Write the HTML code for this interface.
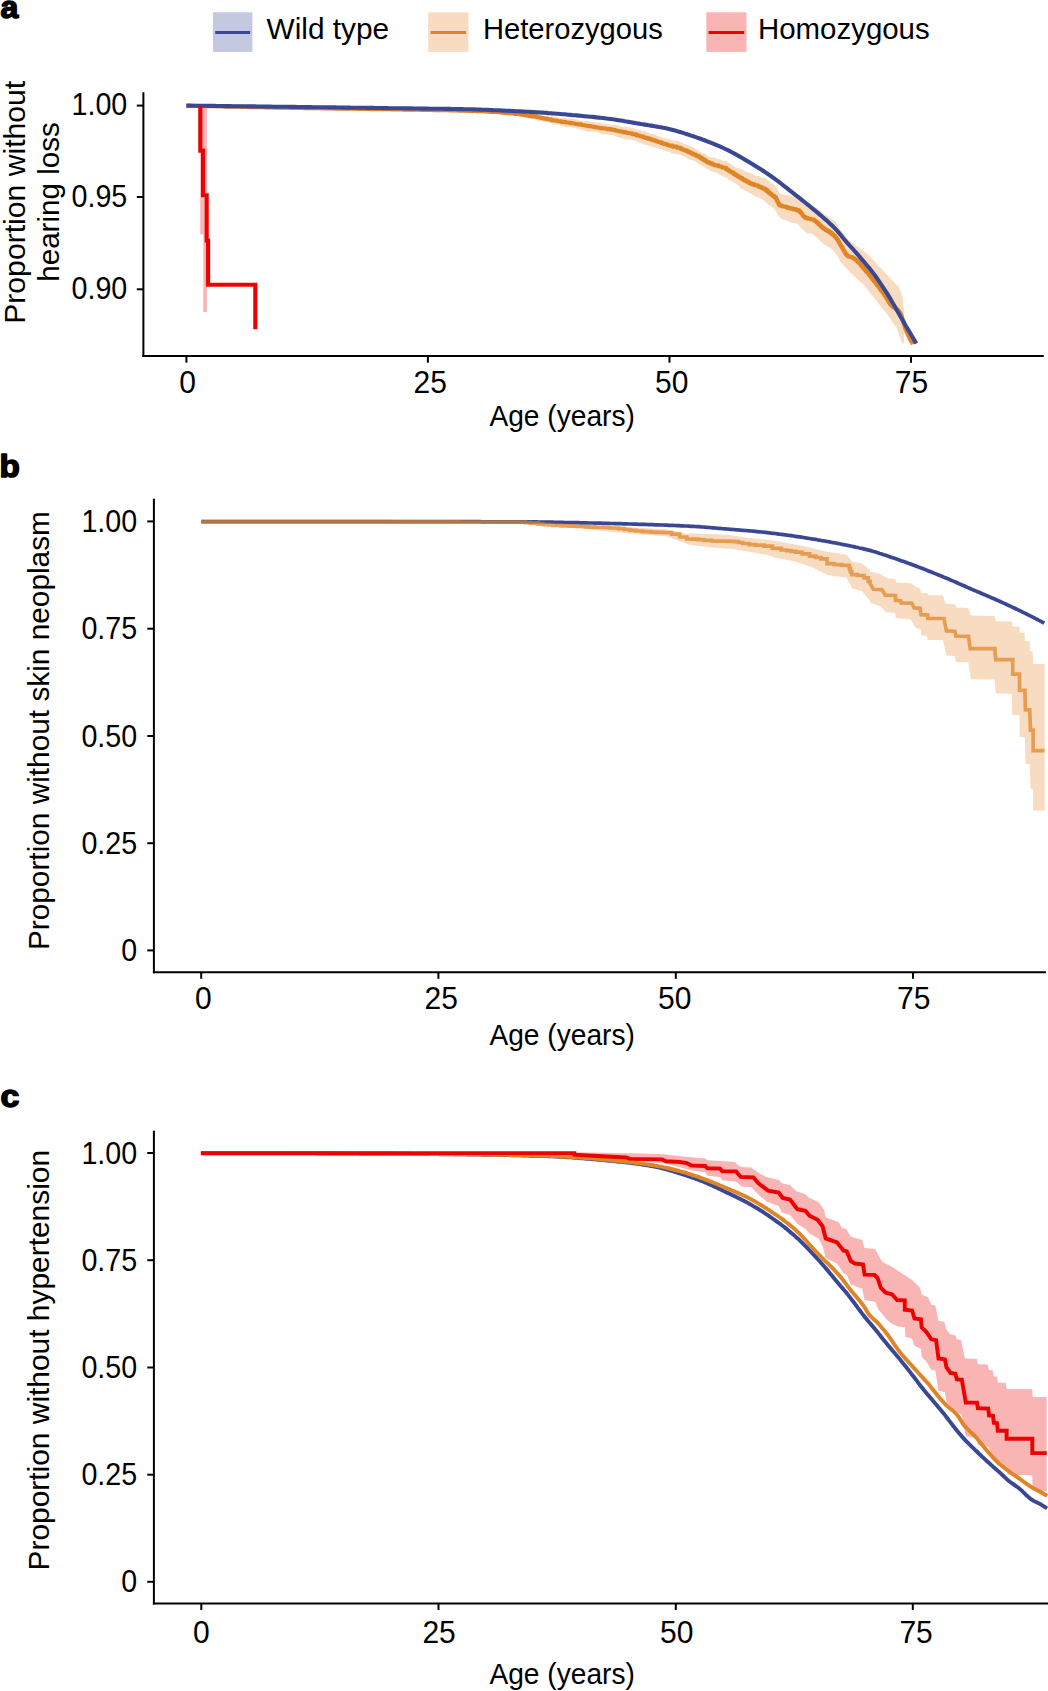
<!DOCTYPE html>
<html lang="en"><head><meta charset="utf-8"><title>Figure</title>
<style>html,body{margin:0;padding:0;background:#fff}svg{display:block}text{font-family:"Liberation Sans", sans-serif;fill:#000}</style></head><body>
<svg width="1048" height="1691" viewBox="0 0 1048 1691">
<rect width="1048" height="1691" fill="#fff"/>
<rect x="212.9" y="12.3" width="39.5" height="39.6" fill="#c4c8e0"/>
<line x1="215.2" y1="32.5" x2="250.1" y2="32.5" stroke="#3a4893" stroke-width="3.20"/>
<text x="266.5" y="39.4" font-size="28.8" text-anchor="start" textLength="122.6" lengthAdjust="spacingAndGlyphs" >Wild type</text>
<rect x="428.2" y="12.3" width="40.2" height="39.6" fill="#f8dcc2"/>
<line x1="430.5" y1="32.5" x2="466.1" y2="32.5" stroke="#e08526" stroke-width="3.20"/>
<text x="483.0" y="39.4" font-size="28.8" text-anchor="start" textLength="179.7" lengthAdjust="spacingAndGlyphs" >Heterozygous</text>
<rect x="706.3" y="12.3" width="40.2" height="39.6" fill="#f9b4b4"/>
<line x1="708.6" y1="32.5" x2="744.2" y2="32.5" stroke="#ee0000" stroke-width="3.20"/>
<text x="758.0" y="39.4" font-size="28.8" text-anchor="start" textLength="171.7" lengthAdjust="spacingAndGlyphs" >Homozygous</text>
<text x="0.6" y="17.6" font-size="31.3" text-anchor="start" textLength="17.8" lengthAdjust="spacingAndGlyphs" font-weight="bold" stroke="#000" stroke-width="1.5" stroke-linejoin="round">a</text>
<text x="-0.4" y="476.6" font-size="31.3" text-anchor="start" textLength="20.3" lengthAdjust="spacingAndGlyphs" font-weight="bold" stroke="#000" stroke-width="1.5" stroke-linejoin="round">b</text>
<text x="0.5" y="1107.4" font-size="31.3" text-anchor="start" textLength="18.8" lengthAdjust="spacingAndGlyphs" font-weight="bold" stroke="#000" stroke-width="1.5" stroke-linejoin="round">c</text>
<line x1="143.4" y1="92.3" x2="143.4" y2="357.1" stroke="#000" stroke-width="2.00"/>
<line x1="142.4" y1="356.1" x2="1043.7" y2="356.1" stroke="#000" stroke-width="2.00"/>
<line x1="136.8" y1="105.6" x2="143.4" y2="105.6" stroke="#000" stroke-width="2.00"/>
<text x="127.3" y="115.4" font-size="30.8" text-anchor="end" textLength="55.8" lengthAdjust="spacingAndGlyphs" >1.00</text>
<line x1="136.8" y1="197.0" x2="143.4" y2="197.0" stroke="#000" stroke-width="2.00"/>
<text x="127.3" y="206.8" font-size="30.8" text-anchor="end" textLength="55.8" lengthAdjust="spacingAndGlyphs" >0.95</text>
<line x1="136.8" y1="289.3" x2="143.4" y2="289.3" stroke="#000" stroke-width="2.00"/>
<text x="127.3" y="299.1" font-size="30.8" text-anchor="end" textLength="55.8" lengthAdjust="spacingAndGlyphs" >0.90</text>
<line x1="186.4" y1="356.1" x2="186.4" y2="362.7" stroke="#000" stroke-width="2.00"/>
<text x="187.5" y="392.7" font-size="30.8" text-anchor="middle" textLength="16.7" lengthAdjust="spacingAndGlyphs" >0</text>
<line x1="427.9" y1="356.1" x2="427.9" y2="362.7" stroke="#000" stroke-width="2.00"/>
<text x="430.3" y="392.7" font-size="30.8" text-anchor="middle" textLength="33.4" lengthAdjust="spacingAndGlyphs" >25</text>
<line x1="669.5" y1="356.1" x2="669.5" y2="362.7" stroke="#000" stroke-width="2.00"/>
<text x="671.7" y="392.7" font-size="30.8" text-anchor="middle" textLength="33.4" lengthAdjust="spacingAndGlyphs" >50</text>
<line x1="911.0" y1="356.1" x2="911.0" y2="362.7" stroke="#000" stroke-width="2.00"/>
<text x="911.4" y="392.7" font-size="30.8" text-anchor="middle" textLength="33.4" lengthAdjust="spacingAndGlyphs" >75</text>
<text x="562.2" y="425.5" font-size="29.6" text-anchor="middle" textLength="145.5" lengthAdjust="spacingAndGlyphs" >Age (years)</text>
<text x="25.5" y="202.3" font-size="29.6" text-anchor="middle" textLength="243.0" lengthAdjust="spacingAndGlyphs" transform="rotate(-90 25.5 202.3)" >Proportion without</text>
<text x="58.8" y="202.0" font-size="29.6" text-anchor="middle" textLength="159.5" lengthAdjust="spacingAndGlyphs" transform="rotate(-90 58.8 202.0)" >hearing loss</text>
<polygon fill="#f9b4b4" points="200.3,105.7 206.9,105.7 206.9,312.0 203.3,312.0 203.3,234.3 200.3,234.3"/>
<polygon fill="#f8dcc2" points="480.0,110.8 483.0,110.6 486.0,110.0 489.0,111.2 492.0,111.3 495.0,111.0 498.0,111.2 501.0,111.5 504.0,110.8 507.0,111.9 510.0,111.4 513.0,111.4 516.0,111.9 519.0,112.8 522.0,112.4 525.0,113.4 528.0,114.0 531.0,113.7 534.0,113.9 537.0,114.5 540.0,115.2 543.0,115.8 546.0,116.0 549.0,116.5 552.0,116.2 555.0,116.7 558.0,117.3 561.0,118.3 564.0,118.0 567.0,118.7 570.0,118.3 573.0,118.7 576.0,119.3 579.0,120.2 582.0,120.7 585.0,121.1 588.0,121.0 591.0,121.7 594.0,122.0 597.0,122.5 600.0,122.4 603.0,123.8 606.0,123.2 609.0,124.7 612.0,125.1 615.0,124.3 618.0,125.4 621.0,126.4 624.0,127.2 627.0,127.0 630.0,127.4 633.0,128.0 636.0,129.7 639.0,129.4 642.0,130.7 645.0,131.0 648.0,132.4 651.0,134.0 654.0,133.8 657.0,135.8 660.0,136.4 663.0,137.9 666.0,138.6 669.0,138.8 672.0,140.6 675.0,140.8 678.0,141.1 681.0,142.0 684.0,143.8 687.0,145.0 690.0,146.1 693.0,147.3 696.0,149.0 699.0,150.6 702.0,153.0 705.0,153.5 708.0,156.0 711.0,157.4 714.0,157.3 717.0,159.2 720.0,159.6 723.0,160.8 726.0,161.1 729.0,162.7 732.0,164.4 735.0,166.9 738.0,168.0 741.0,169.2 744.0,170.8 747.0,172.0 750.0,173.0 753.0,174.1 756.0,175.9 759.0,175.9 762.0,177.8 765.0,178.1 768.0,180.3 771.0,182.9 774.0,184.4 777.0,188.3 780.0,193.7 783.0,194.6 786.0,195.0 789.0,195.3 792.0,196.3 795.0,196.9 798.0,197.3 801.0,199.8 804.0,202.3 807.0,204.8 810.0,205.0 813.0,206.1 816.0,207.6 819.0,209.9 822.0,212.1 825.0,215.3 828.0,216.0 831.0,218.3 834.0,220.5 837.0,223.6 840.0,229.3 849.5,240.7 868.6,255.0 887.7,275.5 899.2,287.4 903.0,299.3 903.9,309.9 903.9,343.5 902.0,343.4 897.3,329.2 887.7,315.1 873.4,296.9 863.9,284.7 849.5,271.9 840.0,260.9 837.0,255.2 834.0,251.4 831.0,248.6 828.0,246.4 825.0,244.7 822.0,243.1 819.0,239.4 816.0,237.0 813.0,234.3 810.0,233.3 807.0,233.3 804.0,230.7 801.0,227.9 798.0,224.2 795.0,223.3 792.0,222.7 789.0,221.9 786.0,220.0 783.0,219.8 780.0,218.1 777.0,213.0 774.0,208.4 771.0,206.3 768.0,204.5 765.0,201.4 762.0,199.0 759.0,197.7 756.0,196.7 753.0,195.1 750.0,192.9 747.0,191.5 744.0,190.1 741.0,188.5 738.0,185.4 735.0,183.3 732.0,181.4 729.0,179.9 726.0,177.6 723.0,176.6 720.0,174.6 717.0,173.3 714.0,171.7 711.0,171.3 708.0,169.3 705.0,167.7 702.0,166.1 699.0,164.2 696.0,161.8 693.0,160.4 690.0,159.8 687.0,158.3 684.0,156.5 681.0,155.2 678.0,154.4 675.0,154.0 672.0,153.5 669.0,151.7 666.0,151.6 663.0,149.6 660.0,149.3 657.0,148.1 654.0,147.5 651.0,146.3 648.0,145.5 645.0,144.8 642.0,143.5 639.0,142.4 636.0,141.1 633.0,140.2 630.0,139.6 627.0,139.8 624.0,138.8 621.0,138.0 618.0,137.4 615.0,136.0 612.0,134.8 609.0,135.0 606.0,134.3 603.0,134.3 600.0,133.6 597.0,132.1 594.0,131.5 591.0,132.1 588.0,131.4 585.0,131.0 582.0,129.7 579.0,129.0 576.0,128.2 573.0,127.7 570.0,127.0 567.0,127.4 564.0,126.5 561.0,125.7 558.0,124.6 555.0,125.1 552.0,123.5 549.0,122.4 546.0,122.1 543.0,121.4 540.0,120.9 537.0,120.0 534.0,119.3 531.0,119.1 528.0,118.6 525.0,117.6 522.0,116.6 519.0,116.0 516.0,115.3 513.0,115.2 510.0,114.4 507.0,114.2 504.0,113.8 501.0,113.9 498.0,114.3 495.0,113.9 492.0,112.7 489.0,112.8 486.0,113.1 483.0,111.9 480.0,111.6"/>
<polyline fill="none" stroke="#e08526" stroke-width="4.1" stroke-linejoin="round" points="186.4,105.7 189.2,105.8 191.6,105.8 195.2,105.9 197.4,106.0 200.7,106.0 203.6,106.1 205.8,106.1 209.1,106.2 211.2,106.3 214.2,106.3 216.4,106.4 218.6,106.4 221.7,106.5 225.8,106.6 228.1,106.6 230.6,106.7 234.2,106.7 238.6,106.8 242.0,106.9 245.0,107.0 249.5,107.1 251.6,107.1 255.7,107.2 258.4,107.2 260.8,107.3 263.1,107.3 265.9,107.4 269.9,107.5 272.4,107.5 275.8,107.6 279.4,107.6 282.3,107.7 285.7,107.7 287.9,107.8 290.0,107.8 292.5,107.9 296.2,107.9 299.3,108.0 302.1,108.0 305.5,108.1 308.7,108.1 311.4,108.2 315.4,108.3 319.2,108.3 321.8,108.3 325.2,108.4 328.5,108.4 332.7,108.5 336.5,108.6 339.3,108.6 343.7,108.7 346.0,108.7 349.0,108.7 352.9,108.8 355.3,108.8 358.5,108.9 360.6,108.9 364.3,108.9 368.2,109.0 371.7,109.1 375.8,109.1 378.6,109.2 382.4,109.2 385.9,109.3 389.3,109.3 392.4,109.4 396.5,109.4 400.9,109.5 404.1,109.6 407.7,109.6 409.9,109.7 413.7,109.7 417.3,109.8 421.8,109.9 425.8,109.9 428.5,110.0 431.5,110.0 435.2,110.1 437.2,110.1 440.4,110.2 442.8,110.2 445.1,110.3 447.2,110.3 451.1,110.4 453.5,110.5 456.1,110.5 459.1,110.6 463.2,110.7 465.4,110.8 468.6,110.9 471.9,110.9 471.9,111.0 476.2,111.0 476.2,111.1 480.2,111.1 480.2,111.3 484.4,111.3 484.4,111.5 487.1,111.5 487.1,111.7 490.1,111.7 490.1,111.9 493.0,111.9 493.0,112.0 497.2,112.0 497.2,112.3 501.6,112.3 501.6,112.7 504.0,112.7 504.0,112.9 506.4,112.9 506.4,113.1 509.0,113.1 509.0,113.3 511.6,113.3 511.6,113.5 514.8,113.5 514.8,113.9 518.3,113.9 518.3,114.3 520.9,114.3 520.9,114.7 522.9,114.7 522.9,115.0 526.0,115.0 526.0,115.4 528.9,115.4 528.9,115.9 532.3,115.9 532.3,116.4 536.7,116.4 536.7,117.3 540.4,117.3 540.4,118.0 543.7,118.0 543.7,118.6 547.3,118.6 547.3,119.3 550.9,119.3 550.9,120.1 553.1,120.1 553.1,120.5 557.3,120.5 557.3,121.2 561.3,121.2 561.3,121.9 565.5,121.9 565.5,122.5 569.5,122.5 569.5,123.1 572.4,123.1 572.4,123.5 575.4,123.5 575.4,124.0 577.7,124.0 577.7,124.4 581.3,124.4 581.3,125.0 583.4,125.0 583.4,125.3 585.6,125.3 585.6,125.7 588.1,125.7 588.1,126.1 590.5,126.1 590.5,126.5 593.4,126.5 593.4,127.0 595.5,127.0 595.5,127.4 597.5,127.4 597.5,127.7 599.9,127.7 599.9,128.1 602.2,128.1 602.2,128.4 605.1,128.4 605.1,128.8 607.1,128.8 607.1,129.1 611.3,129.1 611.3,129.8 614.8,129.8 614.8,130.5 617.2,130.5 617.2,131.0 619.8,131.0 619.8,131.5 622.7,131.5 622.7,132.1 625.6,132.1 625.6,132.8 627.9,132.8 627.9,133.3 632.1,133.3 632.1,134.3 636.5,134.3 636.5,135.5 639.7,135.5 639.7,136.3 642.9,136.3 642.9,137.2 645.1,137.2 645.1,137.9 647.4,137.9 647.4,138.6 650.2,138.6 650.2,139.5 652.9,139.5 652.9,140.4 655.6,140.4 655.6,141.3 657.7,141.3 657.7,142.0 661.2,142.0 661.2,143.2 663.6,143.2 663.6,144.0 666.9,144.0 666.9,145.0 669.0,145.0 669.0,145.6 672.3,145.6 672.3,146.6 676.8,146.6 676.8,147.8 680.9,147.8 680.9,149.2 683.7,149.2 683.7,150.2 686.6,150.2 686.6,151.4 689.0,151.4 689.0,152.5 691.6,152.5 691.6,153.7 693.7,153.7 693.7,154.7 696.3,154.7 696.3,156.0 699.3,156.0 699.3,157.6 701.7,157.6 701.7,159.0 703.9,159.0 703.9,160.4 706.0,160.4 706.0,161.6 707.4,161.6 707.4,162.4 709.5,162.4 709.5,163.4 712.2,163.4 712.2,164.5 714.8,164.5 714.8,165.4 718.6,165.4 718.6,166.5 722.1,166.5 722.1,167.7 726.2,167.7 726.2,169.5 728.2,169.5 728.2,170.6 729.8,170.6 729.8,171.6 731.3,171.6 731.3,172.5 733.6,172.5 733.6,174.0 735.3,174.0 735.3,175.2 737.5,175.2 737.5,176.5 739.7,176.5 739.7,177.8 742.1,177.8 742.1,179.2 744.0,179.2 744.0,180.4 746.4,180.4 746.4,181.7 749.0,181.7 749.0,183.1 751.2,183.1 751.2,184.1 754.2,184.1 754.2,185.3 758.0,185.3 758.0,186.6 760.5,186.6 760.5,187.6 762.8,187.6 762.8,188.6 765.2,188.6 765.2,189.9 767.0,189.9 767.0,191.4 768.6,191.4 768.6,192.9 770.2,192.9 770.2,194.1 771.8,194.1 771.8,195.3 772.9,195.3 772.9,196.1 774.6,196.1 774.6,197.4 776.1,197.4 776.1,199.1 776.8,199.1 776.8,200.5 777.4,200.5 777.4,201.8 778.0,201.8 778.0,203.1 778.7,203.1 778.7,204.4 779.7,204.4 779.7,205.5 782.0,205.5 782.0,206.5 786.3,206.5 786.3,207.6 789.2,207.6 789.2,208.4 792.4,208.4 792.4,209.1 795.8,209.1 795.8,210.1 798.9,210.1 798.9,211.4 800.4,211.4 800.4,212.7 801.4,212.7 801.4,213.8 802.3,213.8 802.3,215.0 802.9,215.0 802.9,215.8 803.7,215.8 803.7,216.7 805.2,216.7 805.2,217.9 807.5,217.9 807.5,218.8 810.8,218.8 810.8,219.5 814.1,219.5 814.1,220.7 815.5,220.7 815.5,221.6 816.6,221.6 816.6,222.6 818.1,222.6 818.1,224.0 819.3,224.0 819.3,225.2 820.9,225.2 820.9,226.7 822.4,226.7 822.4,227.9 824.0,227.9 824.0,229.1 825.7,229.1 825.7,230.2 827.5,230.2 827.5,231.3 829.6,231.3 829.6,232.7 831.8,232.7 831.8,234.2 833.3,234.2 833.3,235.5 834.9,235.5 834.9,237.0 835.7,237.0 835.7,237.8 836.4,237.8 836.4,238.6 837.0,238.6 837.0,239.5 837.9,239.5 837.9,240.8 838.5,240.8 838.5,241.9 839.2,241.9 839.2,243.2 840.0,243.2 840.0,244.6 840.6,244.6 840.6,245.7 841.3,245.7 841.3,246.8 842.3,246.8 842.3,248.4 842.9,248.4 842.9,249.4 843.5,249.4 843.5,250.6 844.1,250.6 844.1,251.6 844.9,251.6 844.9,253.0 845.8,253.0 845.8,254.2 846.4,254.2 846.4,255.0 847.6,255.0 847.6,256.2 849.1,256.2 849.1,257.0 852.6,257.0 852.6,258.3 854.6,258.3 854.6,259.3 855.7,259.3 855.7,260.1 856.8,260.1 856.8,261.1 857.9,261.1 857.9,262.2 859.2,262.2 859.2,263.6 860.0,263.6 860.0,264.5 861.0,264.5 861.0,265.7 861.8,265.7 861.8,266.6 863.0,266.6 863.0,267.9 863.7,267.9 863.7,268.8 864.8,268.8 864.8,270.0 865.6,270.0 865.6,270.9 866.3,270.9 866.3,271.7 867.2,271.7 867.2,272.8 868.2,272.8 868.2,274.0 869.0,274.0 869.0,275.0 869.9,275.0 869.9,276.2 870.6,276.2 870.6,277.1 871.3,277.1 871.3,277.9 872.1,277.9 872.1,278.9 873.2,278.9 873.2,280.3 874.1,280.3 874.1,281.5 874.9,281.5 874.9,282.5 875.7,282.5 875.7,283.5 876.7,283.5 876.7,284.9 877.4,284.9 877.4,285.8 878.6,285.8 878.6,287.3 879.7,287.3 879.7,288.7 880.5,288.7 880.5,289.9 881.3,289.9 881.3,291.0 882.3,291.0 882.3,292.3 883.0,292.3 883.0,293.3 884.0,293.3 884.0,294.7 884.7,294.7 884.7,295.7 885.3,295.7 885.3,296.6 885.9,296.6 885.9,297.5 886.5,297.5 886.5,298.5 887.1,298.5 887.1,299.5 888.0,299.5 888.0,300.9 888.6,300.9 888.6,301.9 889.2,301.9 889.2,303.0 889.8,303.0 889.8,303.9 890.6,303.9 890.6,304.9 892.1,304.9 892.1,306.4 893.4,306.4 893.4,307.4 894.9,307.4 894.9,308.4 896.0,308.4 896.0,309.2 897.5,309.2 897.5,310.4 898.5,310.4 898.5,311.3 899.1,311.3 899.1,312.0 899.7,312.0 899.7,312.9 900.3,312.9 900.3,314.0 900.9,314.0 900.9,315.3 901.5,315.3 901.5,316.9 902.1,316.9 902.1,318.7 902.7,318.7 902.7,320.6 903.3,320.6 903.3,322.6 903.9,322.6 903.9,324.6 904.5,324.6 904.5,326.5 905.1,326.5 905.1,328.4 905.7,328.4 905.7,330.1 906.3,330.1 906.3,331.6 906.9,331.6 906.9,333.0 907.5,333.0 907.5,334.3 908.2,334.3 908.2,335.7 908.8,335.7 908.8,337.0 909.4,337.0 909.4,338.4 910.0,338.4 910.0,339.5 910.6,339.5 910.6,340.7 911.2,340.7 911.2,341.8 911.9,341.8 911.9,343.0 912.5,343.0 912.5,344.0"/>
<polyline fill="none" stroke="#3a4893" stroke-width="4.1" stroke-linejoin="round" stroke-linecap="butt" points="186.4,105.6 188.4,105.6 190.4,105.6 192.4,105.7 194.4,105.7 196.5,105.7 198.5,105.7 200.5,105.8 202.5,105.8 204.5,105.8 206.5,105.8 208.5,105.9 210.5,105.9 212.5,105.9 214.6,105.9 216.6,106.0 218.6,106.0 220.6,106.0 222.6,106.0 224.6,106.1 226.6,106.1 228.6,106.1 230.6,106.1 232.6,106.2 234.7,106.2 236.7,106.2 238.7,106.2 240.7,106.3 242.7,106.3 244.7,106.3 246.7,106.3 248.7,106.4 250.7,106.4 252.8,106.4 254.8,106.4 256.8,106.5 258.8,106.5 260.8,106.5 262.8,106.5 264.8,106.6 266.8,106.6 268.8,106.6 270.9,106.6 272.9,106.7 274.9,106.7 276.9,106.7 278.9,106.7 280.9,106.8 282.9,106.8 284.9,106.8 286.9,106.8 288.9,106.9 291.0,106.9 293.0,106.9 295.0,106.9 297.0,107.0 299.0,107.0 301.0,107.0 303.0,107.0 305.0,107.1 307.0,107.1 309.1,107.1 311.1,107.1 313.1,107.2 315.1,107.2 317.1,107.2 319.1,107.2 321.1,107.3 323.1,107.3 325.1,107.3 327.2,107.3 329.2,107.4 331.2,107.4 333.2,107.4 335.2,107.4 337.2,107.5 339.2,107.5 341.2,107.5 343.2,107.6 345.2,107.6 347.3,107.6 349.3,107.6 351.3,107.7 353.3,107.7 355.3,107.7 357.3,107.7 359.3,107.8 361.3,107.8 363.3,107.8 365.4,107.8 367.4,107.9 369.4,107.9 371.4,107.9 373.4,107.9 375.4,108.0 377.4,108.0 379.4,108.0 381.4,108.0 383.5,108.1 385.5,108.1 387.5,108.1 389.5,108.2 391.5,108.2 393.5,108.2 395.5,108.2 397.5,108.3 399.5,108.3 401.5,108.3 403.6,108.3 405.6,108.4 407.6,108.4 409.6,108.4 411.6,108.4 413.6,108.5 415.6,108.5 417.6,108.5 419.6,108.5 421.7,108.6 423.7,108.6 425.7,108.6 427.7,108.6 429.7,108.7 431.7,108.7 433.7,108.7 435.7,108.7 437.7,108.8 439.8,108.8 441.8,108.8 443.8,108.8 445.8,108.9 447.8,108.9 449.8,108.9 451.8,109.0 453.8,109.0 455.8,109.0 457.9,109.1 459.9,109.1 461.9,109.1 463.9,109.2 465.9,109.2 467.9,109.3 469.9,109.3 471.9,109.3 473.9,109.4 475.9,109.5 478.0,109.5 480.0,109.6 482.0,109.7 484.0,109.7 486.0,109.8 488.0,109.9 490.0,110.0 492.0,110.1 494.0,110.2 496.1,110.3 498.1,110.3 500.1,110.4 502.1,110.5 504.1,110.6 506.1,110.7 508.1,110.8 510.1,110.9 512.1,111.0 514.2,111.1 516.2,111.2 518.2,111.3 520.2,111.4 522.2,111.5 524.2,111.6 526.2,111.7 528.2,111.8 530.2,111.9 532.2,112.0 534.3,112.1 536.3,112.3 538.3,112.4 540.3,112.5 542.3,112.6 544.3,112.8 546.3,112.9 548.3,113.1 550.3,113.2 552.4,113.4 554.4,113.5 556.4,113.7 558.4,113.8 560.4,114.0 562.4,114.2 564.4,114.3 566.4,114.5 568.4,114.7 570.5,114.9 572.5,115.1 574.5,115.2 576.5,115.4 578.5,115.6 580.5,115.8 582.5,116.0 584.5,116.2 586.5,116.4 588.5,116.5 590.6,116.7 592.6,116.9 594.6,117.1 596.6,117.4 598.6,117.6 600.6,117.8 602.6,118.0 604.6,118.2 606.6,118.5 608.7,118.7 610.7,119.0 612.7,119.3 614.7,119.5 616.7,119.9 618.7,120.2 620.7,120.5 622.7,120.8 624.7,121.2 626.8,121.5 628.8,121.9 630.8,122.2 632.8,122.6 634.8,122.9 636.8,123.3 638.8,123.6 640.8,124.0 642.8,124.3 644.8,124.6 646.9,124.9 648.9,125.3 650.9,125.6 652.9,125.9 654.9,126.3 656.9,126.6 658.9,127.0 660.9,127.3 662.9,127.7 665.0,128.1 667.0,128.5 669.0,129.0 671.0,129.5 673.0,130.0 675.0,130.5 677.0,131.1 679.0,131.7 681.0,132.3 683.1,132.9 685.1,133.6 687.1,134.2 689.1,134.9 691.1,135.6 693.1,136.2 695.1,136.9 697.1,137.6 699.1,138.3 701.2,139.0 703.2,139.8 705.2,140.5 707.2,141.3 709.2,142.1 711.2,142.9 713.2,143.7 715.2,144.5 717.2,145.4 719.2,146.2 721.3,147.1 723.3,148.0 725.3,149.0 727.3,149.9 729.3,150.9 731.3,152.0 733.3,153.0 735.3,154.1 737.3,155.2 739.4,156.4 741.4,157.5 743.4,158.7 745.4,159.9 747.4,161.1 749.4,162.2 751.4,163.4 753.4,164.7 755.4,165.9 757.5,167.2 759.5,168.4 761.5,169.7 763.5,171.0 765.5,172.4 767.5,173.7 769.5,175.1 771.5,176.5 773.5,177.9 775.5,179.4 777.6,180.9 779.6,182.4 781.6,184.0 783.6,185.6 785.6,187.1 787.6,188.7 789.6,190.3 791.6,191.9 793.6,193.5 795.7,195.1 797.7,196.6 799.7,198.2 801.7,199.8 803.7,201.4 805.7,203.0 807.7,204.6 809.7,206.2 811.7,207.9 813.8,209.6 815.8,211.2 817.8,212.9 819.8,214.6 821.8,216.3 823.8,218.1 825.8,219.8 827.8,221.6 829.8,223.4 831.8,225.3 833.9,227.3 835.9,229.4 837.9,231.6 839.9,234.0 841.9,236.5 843.9,239.0 845.9,241.3 847.9,243.6 849.9,245.9 852.0,248.1 854.0,250.3 856.0,252.6 858.0,254.9 860.0,257.2 862.0,259.6 864.0,261.9 866.0,264.3 868.0,266.7 870.1,269.1 872.1,271.7 874.1,274.3 876.1,277.0 878.1,279.9 880.1,282.8 882.1,285.8 884.1,288.8 886.1,291.9 888.1,295.1 890.2,298.4 892.2,301.9 894.2,305.4 896.2,309.0 898.2,312.5 900.2,316.1 902.2,319.6 904.2,323.0 906.2,326.5 908.3,329.9 910.3,333.3 912.3,336.7 914.3,340.1 916.3,343.5"/>
<polyline fill="none" stroke="#ee0000" stroke-width="4.1" stroke-linejoin="miter" points="200.3,105.7 200.3,150.6 203.0,150.6 203.0,195.3 206.7,195.3 206.7,240.5 208.1,240.5 208.1,284.8 255.3,284.8 255.3,329.2"/>
<line x1="153.9" y1="498.7" x2="153.9" y2="973.2" stroke="#000" stroke-width="2.00"/>
<line x1="152.9" y1="972.2" x2="1045.9" y2="972.2" stroke="#000" stroke-width="2.00"/>
<line x1="147.3" y1="521.4" x2="153.9" y2="521.4" stroke="#000" stroke-width="2.00"/>
<text x="137.2" y="531.9" font-size="30.8" text-anchor="end" textLength="55.8" lengthAdjust="spacingAndGlyphs" >1.00</text>
<line x1="147.3" y1="628.7" x2="153.9" y2="628.7" stroke="#000" stroke-width="2.00"/>
<text x="137.2" y="639.2" font-size="30.8" text-anchor="end" textLength="55.8" lengthAdjust="spacingAndGlyphs" >0.75</text>
<line x1="147.3" y1="736.0" x2="153.9" y2="736.0" stroke="#000" stroke-width="2.00"/>
<text x="137.2" y="746.5" font-size="30.8" text-anchor="end" textLength="55.8" lengthAdjust="spacingAndGlyphs" >0.50</text>
<line x1="147.3" y1="843.2" x2="153.9" y2="843.2" stroke="#000" stroke-width="2.00"/>
<text x="137.2" y="853.7" font-size="30.8" text-anchor="end" textLength="55.8" lengthAdjust="spacingAndGlyphs" >0.25</text>
<line x1="147.3" y1="950.4" x2="153.9" y2="950.4" stroke="#000" stroke-width="2.00"/>
<text x="137.2" y="960.9" font-size="30.8" text-anchor="end" textLength="15.9" lengthAdjust="spacingAndGlyphs" >0</text>
<line x1="201.2" y1="972.2" x2="201.2" y2="978.8" stroke="#000" stroke-width="2.00"/>
<text x="203.3" y="1008.8" font-size="30.8" text-anchor="middle" textLength="16.7" lengthAdjust="spacingAndGlyphs" >0</text>
<line x1="438.4" y1="972.2" x2="438.4" y2="978.8" stroke="#000" stroke-width="2.00"/>
<text x="441.2" y="1008.8" font-size="30.8" text-anchor="middle" textLength="33.4" lengthAdjust="spacingAndGlyphs" >25</text>
<line x1="675.8" y1="972.2" x2="675.8" y2="978.8" stroke="#000" stroke-width="2.00"/>
<text x="674.8" y="1008.8" font-size="30.8" text-anchor="middle" textLength="33.4" lengthAdjust="spacingAndGlyphs" >50</text>
<line x1="913.0" y1="972.2" x2="913.0" y2="978.8" stroke="#000" stroke-width="2.00"/>
<text x="913.7" y="1008.8" font-size="30.8" text-anchor="middle" textLength="33.4" lengthAdjust="spacingAndGlyphs" >75</text>
<text x="562.2" y="1045.2" font-size="29.6" text-anchor="middle" textLength="145.5" lengthAdjust="spacingAndGlyphs" >Age (years)</text>
<text x="49.4" y="730.6" font-size="29.6" text-anchor="middle" textLength="439.0" lengthAdjust="spacingAndGlyphs" transform="rotate(-90 49.4 730.6)" >Proportion without skin neoplasm</text>
<polygon fill="#f8dcc2" points="560.0,525.2 585.9,524.9 633.6,527.5 666.0,529.2 687.0,534.0 690.0,533.3 728.2,534.8 747.3,537.7 775.9,540.9 804.5,546.3 823.6,551.0 846.5,554.8 852.2,561.5 861.8,563.4 870.0,570.0 870.0,571.4 880.2,574.0 887.0,578.2 895.5,579.1 896.3,582.5 910.8,583.3 915.9,586.7 920.1,588.4 921.0,592.7 927.7,593.5 928.6,595.2 943.0,595.5 945.6,603.7 954.9,604.2 956.6,607.6 968.2,607.9 971.1,615.6 994.8,615.9 995.7,621.2 1011.8,621.5 1012.7,626.6 1019.5,626.6 1019.8,632.6 1024.6,632.9 1024.9,641.1 1029.7,641.4 1030.0,651.3 1032.7,651.6 1033.1,664.0 1044.6,664.0 1044.6,810.4 1033.1,810.4 1033.1,789.2 1030.5,788.8 1029.7,764.2 1025.4,763.9 1024.9,737.4 1019.8,737.0 1019.5,714.9 1012.3,714.9 1011.8,693.7 995.7,693.4 994.8,679.6 971.1,679.3 968.2,662.3 955.8,662.0 954.9,656.0 946.4,655.5 943.0,640.2 927.7,639.9 926.9,636.0 921.0,635.1 921.0,629.2 915.9,628.3 910.8,619.5 895.5,618.1 895.5,613.0 886.1,612.2 880.2,606.2 870.0,602.8 870.0,601.0 861.8,591.1 852.2,588.2 846.5,577.7 827.4,574.9 812.1,567.3 795.0,561.5 775.9,557.7 766.3,554.8 747.3,551.6 732.0,549.1 709.1,547.2 690.0,544.7 687.0,544.0 666.0,536.2 633.6,534.1 585.9,528.9 560.0,526.4"/>
<polyline fill="none" stroke="#3a4893" stroke-width="3.7" stroke-linejoin="round" points="201.2,521.6 203.2,521.6 205.2,521.6 207.2,521.6 209.2,521.6 211.2,521.6 213.2,521.6 215.3,521.6 217.3,521.6 219.3,521.6 221.3,521.6 223.3,521.6 225.3,521.6 227.3,521.6 229.3,521.6 231.3,521.6 233.3,521.6 235.3,521.6 237.3,521.6 239.3,521.6 241.3,521.6 243.4,521.6 245.4,521.6 247.4,521.6 249.4,521.6 251.4,521.6 253.4,521.6 255.4,521.6 257.4,521.6 259.4,521.6 261.4,521.6 263.4,521.6 265.4,521.6 267.4,521.6 269.5,521.6 271.5,521.6 273.5,521.6 275.5,521.6 277.5,521.6 279.5,521.6 281.5,521.6 283.5,521.6 285.5,521.6 287.5,521.6 289.5,521.6 291.5,521.6 293.5,521.6 295.5,521.6 297.6,521.6 299.6,521.6 301.6,521.6 303.6,521.6 305.6,521.6 307.6,521.6 309.6,521.6 311.6,521.6 313.6,521.6 315.6,521.6 317.6,521.7 319.6,521.7 321.6,521.7 323.7,521.7 325.7,521.7 327.7,521.7 329.7,521.7 331.7,521.7 333.7,521.7 335.7,521.7 337.7,521.7 339.7,521.7 341.7,521.7 343.7,521.7 345.7,521.7 347.7,521.7 349.7,521.7 351.8,521.7 353.8,521.7 355.8,521.7 357.8,521.7 359.8,521.7 361.8,521.7 363.8,521.7 365.8,521.7 367.8,521.7 369.8,521.7 371.8,521.7 373.8,521.7 375.8,521.7 377.8,521.7 379.9,521.7 381.9,521.7 383.9,521.7 385.9,521.7 387.9,521.7 389.9,521.7 391.9,521.7 393.9,521.7 395.9,521.7 397.9,521.7 399.9,521.7 401.9,521.7 403.9,521.7 406.0,521.7 408.0,521.7 410.0,521.7 412.0,521.7 414.0,521.7 416.0,521.7 418.0,521.7 420.0,521.7 422.0,521.7 424.0,521.7 426.0,521.7 428.0,521.7 430.0,521.7 432.0,521.7 434.1,521.7 436.1,521.7 438.1,521.7 440.1,521.7 442.1,521.7 444.1,521.7 446.1,521.7 448.1,521.7 450.1,521.7 452.1,521.7 454.1,521.7 456.1,521.7 458.1,521.7 460.2,521.7 462.2,521.7 464.2,521.7 466.2,521.7 468.2,521.7 470.2,521.7 472.2,521.7 474.2,521.7 476.2,521.7 478.2,521.7 480.2,521.7 482.2,521.8 484.2,521.8 486.2,521.8 488.3,521.8 490.3,521.8 492.3,521.8 494.3,521.8 496.3,521.8 498.3,521.8 500.3,521.8 502.3,521.8 504.3,521.8 506.3,521.8 508.3,521.8 510.3,521.8 512.3,521.8 514.4,521.8 516.4,521.8 518.4,521.8 520.4,521.8 522.4,521.8 524.4,521.8 526.4,521.8 528.4,521.9 530.4,521.9 532.4,521.9 534.4,521.9 536.4,521.9 538.4,522.0 540.4,522.0 542.5,522.0 544.5,522.1 546.5,522.1 548.5,522.1 550.5,522.2 552.5,522.2 554.5,522.3 556.5,522.3 558.5,522.3 560.5,522.4 562.5,522.4 564.5,522.5 566.5,522.5 568.6,522.5 570.6,522.6 572.6,522.6 574.6,522.7 576.6,522.7 578.6,522.7 580.6,522.8 582.6,522.8 584.6,522.9 586.6,522.9 588.6,523.0 590.6,523.0 592.6,523.0 594.6,523.1 596.7,523.1 598.7,523.2 600.7,523.2 602.7,523.3 604.7,523.3 606.7,523.4 608.7,523.4 610.7,523.5 612.7,523.5 614.7,523.6 616.7,523.6 618.7,523.7 620.7,523.7 622.8,523.8 624.8,523.8 626.8,523.9 628.8,524.0 630.8,524.0 632.8,524.1 634.8,524.1 636.8,524.2 638.8,524.3 640.8,524.3 642.8,524.4 644.8,524.4 646.8,524.5 648.8,524.6 650.9,524.6 652.9,524.7 654.9,524.8 656.9,524.8 658.9,524.9 660.9,525.0 662.9,525.0 664.9,525.1 666.9,525.2 668.9,525.3 670.9,525.3 672.9,525.4 674.9,525.5 676.9,525.6 679.0,525.7 681.0,525.8 683.0,525.9 685.0,526.0 687.0,526.0 689.0,526.1 691.0,526.3 693.0,526.4 695.0,526.5 697.0,526.6 699.0,526.7 701.0,526.9 703.0,527.0 705.1,527.2 707.1,527.3 709.1,527.5 711.1,527.7 713.1,527.8 715.1,528.0 717.1,528.2 719.1,528.3 721.1,528.5 723.1,528.7 725.1,528.8 727.1,529.0 729.1,529.2 731.1,529.3 733.2,529.5 735.2,529.7 737.2,529.8 739.2,530.0 741.2,530.2 743.2,530.3 745.2,530.5 747.2,530.7 749.2,530.8 751.2,531.0 753.2,531.2 755.2,531.4 757.2,531.6 759.3,531.8 761.3,532.0 763.3,532.2 765.3,532.4 767.3,532.6 769.3,532.8 771.3,533.1 773.3,533.3 775.3,533.5 777.3,533.8 779.3,534.1 781.3,534.3 783.3,534.6 785.3,534.9 787.4,535.2 789.4,535.4 791.4,535.7 793.4,536.0 795.4,536.3 797.4,536.6 799.4,536.9 801.4,537.2 803.4,537.5 805.4,537.8 807.4,538.2 809.4,538.5 811.4,538.8 813.5,539.1 815.5,539.4 817.5,539.8 819.5,540.1 821.5,540.5 823.5,540.8 825.5,541.2 827.5,541.5 829.5,541.9 831.5,542.3 833.5,542.6 835.5,543.0 837.5,543.4 839.5,543.8 841.6,544.2 843.6,544.6 845.6,545.0 847.6,545.4 849.6,545.8 851.6,546.2 853.6,546.6 855.6,547.1 857.6,547.5 859.6,548.0 861.6,548.4 863.6,548.9 865.6,549.4 867.7,549.9 869.7,550.4 871.7,550.9 873.7,551.5 875.7,552.1 877.7,552.7 879.7,553.4 881.7,554.0 883.7,554.7 885.7,555.3 887.7,556.0 889.7,556.7 891.7,557.4 893.7,558.1 895.8,558.8 897.8,559.5 899.8,560.2 901.8,560.9 903.8,561.6 905.8,562.3 907.8,563.1 909.8,563.8 911.8,564.5 913.8,565.3 915.8,566.0 917.8,566.8 919.8,567.6 921.8,568.3 923.9,569.1 925.9,569.9 927.9,570.7 929.9,571.5 931.9,572.3 933.9,573.1 935.9,573.9 937.9,574.7 939.9,575.5 941.9,576.3 943.9,577.2 945.9,578.0 947.9,578.8 950.0,579.7 952.0,580.6 954.0,581.4 956.0,582.3 958.0,583.2 960.0,584.1 962.0,585.0 964.0,585.8 966.0,586.7 968.0,587.6 970.0,588.5 972.0,589.4 974.0,590.2 976.0,591.1 978.1,591.9 980.1,592.8 982.1,593.7 984.1,594.5 986.1,595.4 988.1,596.2 990.1,597.1 992.1,598.0 994.1,598.8 996.1,599.7 998.1,600.6 1000.1,601.5 1002.1,602.4 1004.2,603.4 1006.2,604.3 1008.2,605.2 1010.2,606.1 1012.2,607.1 1014.2,608.0 1016.2,609.0 1018.2,609.9 1020.2,610.9 1022.2,611.9 1024.2,612.9 1026.2,613.8 1028.2,614.9 1030.2,615.9 1032.3,616.9 1034.3,617.9 1036.3,619.0 1038.3,620.0 1040.3,621.1 1042.3,622.1 1044.3,623.2"/>
<polyline fill="none" stroke="#e08526" stroke-opacity="0.72" stroke-width="3.7" stroke-linejoin="miter" points="201.2,521.6 205.5,521.6 211.5,521.6 220.0,521.6 228.4,521.6 236.0,521.6 245.0,521.6 253.7,521.6 259.3,521.6 264.3,521.6 272.9,521.6 280.7,521.6 284.8,521.6 292.2,521.6 298.0,521.6 303.9,521.6 309.6,521.6 314.4,521.6 318.4,521.6 323.8,521.6 329.6,521.7 338.4,521.7 343.0,521.7 351.8,521.7 356.8,521.7 362.6,521.7 370.7,521.7 378.8,521.7 385.0,521.7 389.3,521.7 395.6,521.8 401.5,521.8 410.1,521.8 415.0,521.8 420.9,521.8 429.4,521.8 433.5,521.9 439.6,521.9 447.6,521.9 455.5,521.9 459.7,521.9 463.8,522.0 468.1,522.0 476.7,522.0 482.0,522.0 489.8,522.1 498.3,522.1 504.0,522.1 509.3,522.2 518.1,522.2 525.2,522.2 525.2,522.6 530.5,522.6 530.5,523.2 538.1,523.2 538.1,524.1 543.7,524.1 543.7,524.6 549.0,524.6 549.0,525.0 553.1,525.0 553.1,525.3 560.8,525.3 560.8,525.8 569.4,525.8 569.4,526.2 576.6,526.2 576.6,526.5 585.3,526.5 585.3,526.9 589.4,526.9 589.4,527.1 594.6,527.1 594.6,527.3 601.0,527.3 601.0,527.5 609.8,527.5 609.8,528.0 618.5,528.0 618.5,528.7 624.5,528.7 624.5,529.5 629.7,529.5 629.7,530.3 635.9,530.3 635.9,531.0 642.3,531.0 642.3,531.6 651.0,531.6 651.0,532.2 655.9,532.2 655.9,532.3 663.9,532.3 663.9,532.6 671.6,532.6 671.6,534.1 679.7,534.1 679.7,537.0 686.8,537.0 686.8,539.0 692.5,539.0 692.5,539.1 698.1,539.1 698.1,539.6 703.9,539.6 703.9,540.4 711.8,540.4 711.8,541.0 716.2,541.0 716.2,541.1 721.2,541.1 721.2,541.2 728.9,541.2 728.9,541.4 734.2,541.4 734.2,541.7 738.5,541.7 738.5,542.5 742.7,542.5 742.7,543.5 749.4,543.5 749.4,544.6 755.1,544.6 755.1,545.1 764.0,545.1 764.0,546.1 772.4,546.1 772.4,548.3 781.3,548.3 781.3,550.0 786.7,550.0 786.7,550.7 791.1,550.7 791.1,551.3 795.6,551.3 795.6,552.1 802.0,552.1 802.0,553.9 809.6,553.9 809.6,556.1 815.8,556.1 815.8,557.5 821.0,557.5 821.0,558.9 827.1,558.9 827.1,563.7 834.2,563.7 834.2,564.7 841.6,564.7 841.6,565.4 849.3,565.4 849.3,568.6 850.4,568.6 850.4,571.6 851.8,571.6 851.8,574.6 857.3,574.6 857.3,575.5 864.1,575.5 864.1,577.8 868.3,577.8 868.3,581.5 870.0,581.5 870.0,583.3 870.0,583.3 873.4,589.3 881.9,589.6 885.3,595.2 895.5,595.5 895.5,600.3 900.6,600.8 901.4,603.2 911.6,603.2 914.2,607.9 920.1,608.3 921.0,614.7 927.7,615.1 927.7,618.5 943.9,618.5 946.4,630.9 954.9,631.2 955.8,636.0 968.5,636.3 970.2,648.7 994.8,648.7 995.7,659.7 1012.7,659.7 1012.7,674.2 1019.5,674.2 1019.5,690.3 1024.9,690.3 1025.4,709.8 1029.7,709.8 1030.5,730.2 1033.1,730.2 1033.1,750.6 1044.6,750.6"/>
<line x1="153.9" y1="1130.7" x2="153.9" y2="1604.4" stroke="#000" stroke-width="2.00"/>
<line x1="152.9" y1="1603.4" x2="1048.0" y2="1603.4" stroke="#000" stroke-width="2.00"/>
<line x1="147.3" y1="1153.0" x2="153.9" y2="1153.0" stroke="#000" stroke-width="2.00"/>
<text x="137.2" y="1163.5" font-size="30.8" text-anchor="end" textLength="55.8" lengthAdjust="spacingAndGlyphs" >1.00</text>
<line x1="147.3" y1="1260.2" x2="153.9" y2="1260.2" stroke="#000" stroke-width="2.00"/>
<text x="137.2" y="1270.7" font-size="30.8" text-anchor="end" textLength="55.8" lengthAdjust="spacingAndGlyphs" >0.75</text>
<line x1="147.3" y1="1367.5" x2="153.9" y2="1367.5" stroke="#000" stroke-width="2.00"/>
<text x="137.2" y="1378.0" font-size="30.8" text-anchor="end" textLength="55.8" lengthAdjust="spacingAndGlyphs" >0.50</text>
<line x1="147.3" y1="1474.7" x2="153.9" y2="1474.7" stroke="#000" stroke-width="2.00"/>
<text x="137.2" y="1485.2" font-size="30.8" text-anchor="end" textLength="55.8" lengthAdjust="spacingAndGlyphs" >0.25</text>
<line x1="147.3" y1="1581.8" x2="153.9" y2="1581.8" stroke="#000" stroke-width="2.00"/>
<text x="137.2" y="1592.3" font-size="30.8" text-anchor="end" textLength="15.9" lengthAdjust="spacingAndGlyphs" >0</text>
<line x1="201.3" y1="1603.4" x2="201.3" y2="1610.0" stroke="#000" stroke-width="2.00"/>
<text x="201.4" y="1643.2" font-size="30.8" text-anchor="middle" textLength="16.7" lengthAdjust="spacingAndGlyphs" >0</text>
<line x1="438.5" y1="1603.4" x2="438.5" y2="1610.0" stroke="#000" stroke-width="2.00"/>
<text x="439.1" y="1643.2" font-size="30.8" text-anchor="middle" textLength="33.4" lengthAdjust="spacingAndGlyphs" >25</text>
<line x1="675.8" y1="1603.4" x2="675.8" y2="1610.0" stroke="#000" stroke-width="2.00"/>
<text x="676.8" y="1643.2" font-size="30.8" text-anchor="middle" textLength="33.4" lengthAdjust="spacingAndGlyphs" >50</text>
<line x1="912.8" y1="1603.4" x2="912.8" y2="1610.0" stroke="#000" stroke-width="2.00"/>
<text x="916.1" y="1643.2" font-size="30.8" text-anchor="middle" textLength="33.4" lengthAdjust="spacingAndGlyphs" >75</text>
<text x="562.2" y="1683.6" font-size="29.6" text-anchor="middle" textLength="145.5" lengthAdjust="spacingAndGlyphs" >Age (years)</text>
<text x="49.4" y="1360.2" font-size="29.6" text-anchor="middle" textLength="420.5" lengthAdjust="spacingAndGlyphs" transform="rotate(-90 49.4 1360.2)" >Proportion without hypertension</text>
<polygon fill="#f9b4b4" points="574.4,1152.3 587.7,1152.5 631.6,1153.2 664.0,1154.2 680.0,1156.3 705.2,1158.6 707.5,1160.3 720.1,1160.9 735.0,1162.0 738.1,1165.4 741.4,1167.0 751.1,1167.4 758.4,1172.7 765.7,1176.8 778.7,1180.0 781.9,1183.3 790.0,1184.9 796.5,1191.4 804.6,1193.8 809.5,1197.9 818.4,1201.9 824.1,1210.0 825.7,1217.3 838.7,1222.2 841.9,1227.9 846.0,1228.7 850.8,1236.8 862.2,1240.0 864.6,1248.1 875.2,1249.0 878.4,1255.4 882.5,1261.9 890.6,1266.0 912.1,1280.0 920.1,1288.0 921.7,1294.4 928.1,1297.6 931.3,1304.8 935.3,1305.6 938.5,1320.9 944.1,1321.7 946.5,1329.7 950.5,1334.5 955.3,1335.3 956.9,1339.3 961.0,1340.1 965.0,1358.5 977.0,1358.9 977.8,1364.2 987.4,1364.5 989.0,1369.8 993.0,1370.6 993.8,1376.2 997.0,1376.7 997.8,1382.6 1005.8,1383.1 1006.6,1389.0 1032.3,1389.3 1032.6,1397.0 1046.7,1397.0 1046.7,1491.6 1032.6,1490.8 1032.3,1475.3 1007.4,1474.8 1006.6,1466.8 997.8,1466.0 988.2,1446.7 977.8,1445.1 977.0,1437.9 965.8,1436.3 961.8,1414.7 958.5,1413.1 950.5,1406.6 946.5,1401.8 944.9,1392.2 938.5,1390.6 935.3,1370.6 931.3,1369.8 926.5,1361.8 921.7,1356.9 920.9,1348.9 914.5,1345.7 912.1,1338.5 905.6,1336.9 904.8,1327.3 897.6,1326.5 891.2,1323.3 886.4,1319.3 880.0,1311.3 878.4,1309.8 875.2,1301.7 864.6,1300.0 862.2,1288.7 850.8,1284.6 846.8,1274.9 843.5,1273.3 837.1,1263.5 825.7,1257.9 822.5,1245.7 818.4,1238.4 809.5,1233.5 806.2,1229.5 797.3,1223.8 790.0,1214.9 781.9,1212.5 778.7,1206.0 767.3,1201.9 758.4,1194.6 751.1,1187.3 741.4,1186.5 738.1,1183.3 735.0,1181.5 722.4,1180.3 720.1,1176.9 707.5,1175.8 705.2,1172.3 691.5,1170.6 680.0,1167.2 664.0,1163.6 631.6,1160.5 597.3,1158.0 574.4,1155.5"/>
<polyline fill="none" stroke="#3a4893" stroke-width="3.9" stroke-linejoin="round" points="201.2,1153.2 203.2,1153.2 205.2,1153.2 207.2,1153.2 209.2,1153.2 211.2,1153.2 213.3,1153.2 215.3,1153.2 217.3,1153.2 219.3,1153.2 221.3,1153.2 223.3,1153.2 225.3,1153.2 227.3,1153.2 229.3,1153.2 231.3,1153.2 233.3,1153.2 235.4,1153.2 237.4,1153.2 239.4,1153.2 241.4,1153.2 243.4,1153.2 245.4,1153.2 247.4,1153.2 249.4,1153.2 251.4,1153.3 253.4,1153.3 255.5,1153.3 257.5,1153.3 259.5,1153.3 261.5,1153.3 263.5,1153.3 265.5,1153.3 267.5,1153.3 269.5,1153.3 271.5,1153.3 273.5,1153.3 275.5,1153.3 277.6,1153.3 279.6,1153.3 281.6,1153.3 283.6,1153.3 285.6,1153.3 287.6,1153.3 289.6,1153.4 291.6,1153.4 293.6,1153.4 295.6,1153.4 297.6,1153.4 299.7,1153.4 301.7,1153.4 303.7,1153.4 305.7,1153.4 307.7,1153.4 309.7,1153.4 311.7,1153.4 313.7,1153.4 315.7,1153.4 317.7,1153.5 319.7,1153.5 321.8,1153.5 323.8,1153.5 325.8,1153.5 327.8,1153.5 329.8,1153.5 331.8,1153.5 333.8,1153.5 335.8,1153.5 337.8,1153.5 339.8,1153.6 341.8,1153.6 343.9,1153.6 345.9,1153.6 347.9,1153.6 349.9,1153.6 351.9,1153.6 353.9,1153.6 355.9,1153.6 357.9,1153.6 359.9,1153.7 361.9,1153.7 364.0,1153.7 366.0,1153.7 368.0,1153.7 370.0,1153.7 372.0,1153.7 374.0,1153.7 376.0,1153.7 378.0,1153.7 380.0,1153.8 382.0,1153.8 384.0,1153.8 386.1,1153.8 388.1,1153.8 390.1,1153.8 392.1,1153.8 394.1,1153.8 396.1,1153.9 398.1,1153.9 400.1,1153.9 402.1,1153.9 404.1,1153.9 406.1,1153.9 408.2,1153.9 410.2,1153.9 412.2,1154.0 414.2,1154.0 416.2,1154.0 418.2,1154.0 420.2,1154.0 422.2,1154.0 424.2,1154.0 426.2,1154.0 428.2,1154.1 430.3,1154.1 432.3,1154.1 434.3,1154.1 436.3,1154.1 438.3,1154.1 440.3,1154.2 442.3,1154.2 444.3,1154.2 446.3,1154.2 448.3,1154.2 450.3,1154.3 452.4,1154.3 454.4,1154.3 456.4,1154.3 458.4,1154.3 460.4,1154.4 462.4,1154.4 464.4,1154.4 466.4,1154.4 468.4,1154.5 470.4,1154.5 472.5,1154.5 474.5,1154.6 476.5,1154.6 478.5,1154.6 480.5,1154.6 482.5,1154.7 484.5,1154.7 486.5,1154.7 488.5,1154.8 490.5,1154.8 492.5,1154.8 494.6,1154.9 496.6,1154.9 498.6,1155.0 500.6,1155.0 502.6,1155.0 504.6,1155.1 506.6,1155.1 508.6,1155.1 510.6,1155.2 512.6,1155.2 514.6,1155.3 516.7,1155.3 518.7,1155.4 520.7,1155.4 522.7,1155.5 524.7,1155.5 526.7,1155.6 528.7,1155.6 530.7,1155.7 532.7,1155.7 534.7,1155.8 536.7,1155.8 538.8,1155.9 540.8,1155.9 542.8,1156.0 544.8,1156.0 546.8,1156.1 548.8,1156.2 550.8,1156.3 552.8,1156.4 554.8,1156.5 556.8,1156.6 558.8,1156.7 560.9,1156.8 562.9,1156.9 564.9,1157.0 566.9,1157.2 568.9,1157.3 570.9,1157.4 572.9,1157.6 574.9,1157.7 576.9,1157.9 578.9,1158.0 581.0,1158.2 583.0,1158.4 585.0,1158.5 587.0,1158.7 589.0,1158.9 591.0,1159.0 593.0,1159.2 595.0,1159.4 597.0,1159.6 599.0,1159.8 601.0,1159.9 603.1,1160.1 605.1,1160.3 607.1,1160.5 609.1,1160.7 611.1,1160.9 613.1,1161.1 615.1,1161.3 617.1,1161.5 619.1,1161.7 621.1,1161.9 623.1,1162.1 625.2,1162.3 627.2,1162.6 629.2,1162.8 631.2,1163.0 633.2,1163.3 635.2,1163.6 637.2,1163.8 639.2,1164.1 641.2,1164.4 643.2,1164.7 645.2,1165.0 647.3,1165.3 649.3,1165.7 651.3,1166.0 653.3,1166.4 655.3,1166.8 657.3,1167.2 659.3,1167.6 661.3,1168.1 663.3,1168.6 665.3,1169.1 667.3,1169.7 669.4,1170.3 671.4,1170.9 673.4,1171.5 675.4,1172.1 677.4,1172.7 679.4,1173.3 681.4,1173.9 683.4,1174.6 685.4,1175.2 687.4,1175.9 689.5,1176.6 691.5,1177.3 693.5,1178.0 695.5,1178.8 697.5,1179.5 699.5,1180.3 701.5,1181.0 703.5,1181.8 705.5,1182.7 707.5,1183.5 709.5,1184.4 711.6,1185.3 713.6,1186.2 715.6,1187.1 717.6,1188.1 719.6,1189.0 721.6,1190.0 723.6,1191.0 725.6,1191.9 727.6,1192.9 729.6,1193.8 731.6,1194.8 733.7,1195.7 735.7,1196.7 737.7,1197.7 739.7,1198.7 741.7,1199.7 743.7,1200.7 745.7,1201.8 747.7,1202.9 749.7,1204.0 751.7,1205.1 753.7,1206.3 755.8,1207.5 757.8,1208.7 759.8,1210.0 761.8,1211.2 763.8,1212.5 765.8,1213.9 767.8,1215.2 769.8,1216.6 771.8,1218.0 773.8,1219.4 775.8,1220.8 777.9,1222.3 779.9,1223.8 781.9,1225.3 783.9,1226.8 785.9,1228.4 787.9,1230.0 789.9,1231.7 791.9,1233.4 793.9,1235.1 795.9,1236.9 798.0,1238.7 800.0,1240.6 802.0,1242.6 804.0,1244.6 806.0,1246.6 808.0,1248.7 810.0,1250.8 812.0,1253.0 814.0,1255.1 816.0,1257.3 818.0,1259.5 820.1,1261.7 822.1,1264.0 824.1,1266.3 826.1,1268.6 828.1,1271.0 830.1,1273.4 832.1,1275.8 834.1,1278.2 836.1,1280.7 838.1,1283.1 840.1,1285.5 842.2,1287.9 844.2,1290.2 846.2,1292.6 848.2,1295.1 850.2,1297.6 852.2,1300.2 854.2,1302.9 856.2,1305.6 858.2,1308.3 860.2,1311.0 862.2,1313.7 864.3,1316.2 866.3,1318.7 868.3,1321.2 870.3,1323.6 872.3,1325.9 874.3,1328.3 876.3,1330.7 878.3,1333.1 880.3,1335.7 882.3,1338.2 884.3,1340.7 886.4,1343.2 888.4,1345.7 890.4,1348.1 892.4,1350.5 894.4,1352.8 896.4,1355.2 898.4,1357.6 900.4,1360.0 902.4,1362.5 904.4,1365.0 906.5,1367.5 908.5,1370.1 910.5,1372.6 912.5,1375.2 914.5,1377.8 916.5,1380.4 918.5,1383.1 920.5,1385.7 922.5,1388.2 924.5,1390.7 926.5,1393.2 928.6,1395.6 930.6,1398.0 932.6,1400.3 934.6,1402.7 936.6,1405.1 938.6,1407.5 940.6,1409.8 942.6,1412.2 944.6,1414.6 946.6,1417.2 948.6,1419.9 950.7,1422.6 952.7,1425.2 954.7,1427.7 956.7,1430.3 958.7,1432.7 960.7,1435.1 962.7,1437.4 964.7,1439.6 966.7,1441.7 968.7,1443.7 970.7,1445.7 972.8,1447.6 974.8,1449.6 976.8,1451.5 978.8,1453.5 980.8,1455.4 982.8,1457.3 984.8,1459.1 986.8,1461.0 988.8,1462.8 990.8,1464.6 992.8,1466.4 994.9,1468.2 996.9,1469.9 998.9,1471.8 1000.9,1473.6 1002.9,1475.5 1004.9,1477.4 1006.9,1479.2 1008.9,1480.9 1010.9,1482.5 1012.9,1483.9 1015.0,1485.4 1017.0,1486.8 1019.0,1488.3 1021.0,1489.9 1023.0,1491.8 1025.0,1493.8 1027.0,1495.8 1029.0,1497.6 1031.0,1499.2 1033.0,1500.5 1035.0,1501.6 1037.1,1502.6 1039.1,1503.6 1041.1,1504.6 1043.1,1505.8 1045.1,1507.1 1047.1,1508.4"/>
<polyline fill="none" stroke="#e08526" stroke-width="3.9" stroke-linejoin="round" points="201.2,1153.2 203.2,1153.2 205.2,1153.2 207.2,1153.2 209.2,1153.2 211.2,1153.2 213.3,1153.2 215.3,1153.2 217.3,1153.2 219.3,1153.2 221.3,1153.2 223.3,1153.2 225.3,1153.2 227.3,1153.2 229.3,1153.2 231.3,1153.2 233.3,1153.2 235.4,1153.2 237.4,1153.2 239.4,1153.2 241.4,1153.2 243.4,1153.2 245.4,1153.2 247.4,1153.2 249.4,1153.2 251.4,1153.2 253.4,1153.2 255.5,1153.3 257.5,1153.3 259.5,1153.3 261.5,1153.3 263.5,1153.3 265.5,1153.3 267.5,1153.3 269.5,1153.3 271.5,1153.3 273.5,1153.3 275.5,1153.3 277.6,1153.3 279.6,1153.3 281.6,1153.3 283.6,1153.3 285.6,1153.3 287.6,1153.3 289.6,1153.3 291.6,1153.3 293.6,1153.3 295.6,1153.3 297.6,1153.4 299.7,1153.4 301.7,1153.4 303.7,1153.4 305.7,1153.4 307.7,1153.4 309.7,1153.4 311.7,1153.4 313.7,1153.4 315.7,1153.4 317.7,1153.4 319.7,1153.4 321.8,1153.4 323.8,1153.4 325.8,1153.5 327.8,1153.5 329.8,1153.5 331.8,1153.5 333.8,1153.5 335.8,1153.5 337.8,1153.5 339.8,1153.5 341.8,1153.5 343.9,1153.5 345.9,1153.5 347.9,1153.5 349.9,1153.6 351.9,1153.6 353.9,1153.6 355.9,1153.6 357.9,1153.6 359.9,1153.6 361.9,1153.6 364.0,1153.6 366.0,1153.6 368.0,1153.6 370.0,1153.6 372.0,1153.7 374.0,1153.7 376.0,1153.7 378.0,1153.7 380.0,1153.7 382.0,1153.7 384.0,1153.7 386.1,1153.7 388.1,1153.7 390.1,1153.7 392.1,1153.8 394.1,1153.8 396.1,1153.8 398.1,1153.8 400.1,1153.8 402.1,1153.8 404.1,1153.8 406.1,1153.8 408.2,1153.8 410.2,1153.8 412.2,1153.9 414.2,1153.9 416.2,1153.9 418.2,1153.9 420.2,1153.9 422.2,1153.9 424.2,1153.9 426.2,1153.9 428.2,1153.9 430.3,1154.0 432.3,1154.0 434.3,1154.0 436.3,1154.0 438.3,1154.0 440.3,1154.0 442.3,1154.1 444.3,1154.1 446.3,1154.1 448.3,1154.1 450.3,1154.1 452.4,1154.1 454.4,1154.2 456.4,1154.2 458.4,1154.2 460.4,1154.2 462.4,1154.2 464.4,1154.3 466.4,1154.3 468.4,1154.3 470.4,1154.3 472.5,1154.4 474.5,1154.4 476.5,1154.4 478.5,1154.4 480.5,1154.5 482.5,1154.5 484.5,1154.5 486.5,1154.6 488.5,1154.6 490.5,1154.6 492.5,1154.7 494.6,1154.7 496.6,1154.7 498.6,1154.8 500.6,1154.8 502.6,1154.8 504.6,1154.9 506.6,1154.9 508.6,1154.9 510.6,1155.0 512.6,1155.0 514.6,1155.0 516.7,1155.1 518.7,1155.1 520.7,1155.2 522.7,1155.2 524.7,1155.2 526.7,1155.3 528.7,1155.3 530.7,1155.4 532.7,1155.4 534.7,1155.5 536.7,1155.5 538.8,1155.6 540.8,1155.6 542.8,1155.7 544.8,1155.7 546.8,1155.8 548.8,1155.9 550.8,1156.0 552.8,1156.1 554.8,1156.1 556.8,1156.2 558.8,1156.4 560.9,1156.5 562.9,1156.6 564.9,1156.7 566.9,1156.8 568.9,1156.9 570.9,1157.0 572.9,1157.2 574.9,1157.3 576.9,1157.4 578.9,1157.5 581.0,1157.7 583.0,1157.8 585.0,1158.0 587.0,1158.1 589.0,1158.3 591.0,1158.4 593.0,1158.6 595.0,1158.8 597.0,1158.9 599.0,1159.1 601.0,1159.3 603.1,1159.5 605.1,1159.7 607.1,1159.9 609.1,1160.1 611.1,1160.3 613.1,1160.5 615.1,1160.7 617.1,1160.9 619.1,1161.1 621.1,1161.3 623.1,1161.5 625.2,1161.7 627.2,1161.9 629.2,1162.2 631.2,1162.4 633.2,1162.6 635.2,1162.8 637.2,1163.1 639.2,1163.3 641.2,1163.6 643.2,1163.8 645.2,1164.1 647.3,1164.4 649.3,1164.7 651.3,1165.0 653.3,1165.3 655.3,1165.6 657.3,1166.0 659.3,1166.3 661.3,1166.7 663.3,1167.2 665.3,1167.6 667.3,1168.0 669.4,1168.5 671.4,1169.0 673.4,1169.5 675.4,1170.0 677.4,1170.5 679.4,1171.0 681.4,1171.6 683.4,1172.1 685.4,1172.7 687.4,1173.4 689.5,1174.0 691.5,1174.6 693.5,1175.3 695.5,1176.0 697.5,1176.7 699.5,1177.4 701.5,1178.1 703.5,1178.8 705.5,1179.6 707.5,1180.3 709.5,1181.1 711.6,1181.9 713.6,1182.7 715.6,1183.5 717.6,1184.3 719.6,1185.2 721.6,1186.0 723.6,1186.9 725.6,1187.7 727.6,1188.6 729.6,1189.4 731.6,1190.3 733.7,1191.1 735.7,1192.0 737.7,1192.9 739.7,1193.8 741.7,1194.7 743.7,1195.6 745.7,1196.6 747.7,1197.6 749.7,1198.6 751.7,1199.7 753.7,1200.8 755.8,1201.9 757.8,1203.1 759.8,1204.3 761.8,1205.5 763.8,1206.8 765.8,1208.0 767.8,1209.3 769.8,1210.6 771.8,1212.0 773.8,1213.3 775.8,1214.7 777.9,1216.1 779.9,1217.5 781.9,1218.9 783.9,1220.4 785.9,1222.0 787.9,1223.5 789.9,1225.1 791.9,1226.8 793.9,1228.5 795.9,1230.3 798.0,1232.2 800.0,1234.2 802.0,1236.2 804.0,1238.4 806.0,1240.5 808.0,1242.8 810.0,1245.0 812.0,1247.2 814.0,1249.4 816.0,1251.6 818.0,1253.7 820.1,1255.8 822.1,1257.8 824.1,1259.8 826.1,1261.8 828.1,1263.7 830.1,1265.7 832.1,1267.7 834.1,1269.8 836.1,1271.9 838.1,1274.1 840.1,1276.4 842.2,1278.8 844.2,1281.5 846.2,1284.2 848.2,1286.9 850.2,1289.5 852.2,1291.9 854.2,1294.3 856.2,1296.6 858.2,1299.0 860.2,1301.4 862.2,1304.0 864.3,1306.8 866.3,1310.2 868.3,1313.5 870.3,1315.9 872.3,1317.9 874.3,1319.7 876.3,1321.5 878.3,1323.5 880.3,1325.8 882.3,1328.2 884.3,1330.6 886.4,1333.2 888.4,1335.8 890.4,1338.6 892.4,1341.5 894.4,1344.5 896.4,1347.4 898.4,1350.2 900.4,1352.8 902.4,1355.2 904.4,1357.6 906.5,1359.8 908.5,1362.0 910.5,1364.2 912.5,1366.4 914.5,1368.6 916.5,1370.8 918.5,1373.0 920.5,1375.2 922.5,1377.4 924.5,1379.6 926.5,1381.8 928.6,1384.0 930.6,1386.6 932.6,1389.3 934.6,1391.8 936.6,1394.3 938.6,1396.7 940.6,1399.1 942.6,1401.3 944.6,1403.5 946.6,1405.5 948.6,1407.3 950.7,1409.0 952.7,1410.6 954.7,1412.4 956.7,1414.4 958.7,1417.0 960.7,1420.3 962.7,1423.5 964.7,1426.1 966.7,1428.3 968.7,1430.2 970.7,1432.1 972.8,1434.0 974.8,1436.0 976.8,1438.3 978.8,1440.7 980.8,1443.2 982.8,1445.6 984.8,1448.1 986.8,1450.4 988.8,1452.7 990.8,1455.0 992.8,1457.3 994.9,1459.5 996.9,1461.5 998.9,1463.4 1000.9,1465.1 1002.9,1466.7 1004.9,1468.3 1006.9,1469.8 1008.9,1471.3 1010.9,1472.8 1012.9,1474.2 1015.0,1475.6 1017.0,1476.9 1019.0,1478.3 1021.0,1479.7 1023.0,1481.2 1025.0,1482.7 1027.0,1484.1 1029.0,1485.5 1031.0,1486.8 1033.0,1488.0 1035.0,1489.1 1037.1,1490.2 1039.1,1491.2 1041.1,1492.3 1043.1,1493.5 1045.1,1494.7 1047.1,1496.0"/>
<polyline fill="none" stroke="#ee0000" stroke-width="3.9" stroke-linejoin="miter" points="200.8,1153.1 574.4,1153.1 574.4,1154.7 597.3,1156.0 625.9,1157.5 629.7,1158.9 662.1,1159.4 666.0,1161.3 680.0,1162.0 686.9,1163.2 691.5,1165.5 705.2,1166.0 707.5,1168.3 720.1,1168.6 722.4,1171.2 736.1,1171.4 740.7,1176.9 753.3,1177.3 758.4,1183.3 768.1,1190.6 778.7,1192.5 782.7,1197.9 790.0,1199.5 797.3,1209.2 805.4,1210.8 809.5,1215.7 817.6,1219.8 822.5,1226.2 825.7,1238.4 837.1,1242.5 843.5,1250.6 846.8,1251.4 850.8,1261.1 854.9,1263.5 863.0,1264.4 864.6,1274.6 874.4,1274.9 877.6,1278.1 880.9,1287.9 885.7,1292.7 892.2,1294.4 897.1,1300.0 897.6,1300.0 904.8,1300.4 904.8,1309.7 912.1,1310.5 914.5,1318.5 920.9,1319.3 921.7,1327.3 926.5,1332.1 931.3,1339.3 936.1,1340.1 938.5,1358.5 944.9,1359.4 946.5,1367.4 950.5,1373.0 955.3,1373.8 956.9,1379.4 961.8,1379.7 965.8,1402.6 977.0,1402.6 977.8,1408.2 988.2,1408.6 989.0,1415.5 993.0,1415.9 993.8,1422.7 997.0,1423.2 997.8,1430.7 1006.6,1430.7 1006.6,1438.7 1032.3,1438.7 1032.3,1453.1 1046.7,1453.1"/>
</svg></body></html>
